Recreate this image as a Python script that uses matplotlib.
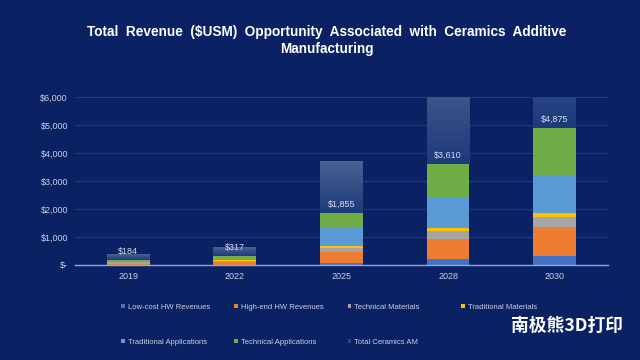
import matplotlib
matplotlib.use("Agg")
import matplotlib.pyplot as plt
import numpy as np
from matplotlib.patches import Patch
from matplotlib.colors import LinearSegmentedColormap

# === data ===
years = ["2019", "2022", "2025", "2028", "2030"]
low_cost_hw = [10, 10, 60, 200, 320]
high_end_hw = [15, 90, 420, 730, 1020]
tech_materials = [70, 40, 110, 280, 380]
trad_materials = [10, 25, 90, 120, 140]
trad_apps = [50, 50, 655, 1050, 1310]
tech_apps = [29, 102, 520, 1230, 1705]
total_am = [184, 317, 1855, 3610, 4875]

series = [
    ("Low-cost HW Revenues", low_cost_hw, "#4472C4"),
    ("High-end HW Revenues", high_end_hw, "#ED7D31"),
    ("Technical Materials", tech_materials, "#A5A5A5"),
    ("Traditional Materials", trad_materials, "#FFC000"),
    ("Traditional Applications", trad_apps, "#5B9BD5"),
    ("Technical Applications", tech_apps, "#70AD47"),
]
total_label = "Total Ceramics AM"
total_color = "#2c4784"

bg = "#0a2263"
tick_color = "#c8d0e4"
ymax = 6000

plt.rcParams["font.family"] = ["Liberation Sans", "DejaVu Sans"]

fig = plt.figure(figsize=(6.4, 3.6), dpi=100, facecolor=bg)
ax = fig.add_axes([0.117, 0.264, 0.833, 0.467], facecolor=bg)

x = np.arange(len(years))
width = 0.4
bottom = np.zeros(len(years))
for label, vals, color in series:
    ax.bar(x, vals, width, bottom=bottom, color=color, linewidth=0, zorder=2)
    bottom += np.array(vals)

# total stacked on top, with a vertical gradient (cut at the axis top)
tot_bars = ax.bar(x, total_am, width, bottom=bottom, color=total_color, linewidth=0, zorder=2)
cmap = LinearSegmentedColormap.from_list("tot", ["#1d3a7c", "#4a6192"])
for b in tot_bars:
    x0, y0, h = b.get_x(), b.get_y(), b.get_height()
    y1 = min(y0 + h, ymax)
    grad = np.linspace(0, (y1 - y0) / h, 100).reshape(-1, 1)
    ax.imshow(grad, extent=[x0, x0 + b.get_width(), y0, y1], origin="lower",
              aspect="auto", cmap=cmap, vmin=0, vmax=1, zorder=2.5)

for xi, base, val in zip(x, bottom, total_am):
    ax.annotate(f"${val:,}", (xi, base), xytext=(0, 3), textcoords="offset points",
                ha="center", va="bottom", fontsize=6.5, color="#d8deea", zorder=4)

ax.set_xlim(-0.5, len(years) - 0.5)
ax.set_ylim(0, ymax)
ax.set_yticks(np.arange(0, ymax + 1, 1000))
ax.set_yticklabels(["$-" if v == 0 else f"${v:,}" for v in range(0, ymax + 1, 1000)])
ax.set_xticks(x)
ax.set_xticklabels(years)
ax.tick_params(axis="both", length=0, colors=tick_color, labelsize=6.5, pad=5)
ax.grid(axis="y", color="#1f3a7a", linewidth=0.8, zorder=0)
ax.set_axisbelow(True)
for s in ["top", "right", "left"]:
    ax.spines[s].set_visible(False)
ax.spines["bottom"].set_color("#8fa6d4")
ax.spines["bottom"].set_linewidth(1)

fig.text(0.511, 0.887,
         "Total  Revenue  ($USM)  Opportunity  Associated  with  Ceramics  Additive\nManufacturing",
         ha="center", va="center", fontsize=9.8, fontweight="bold", color="white", linespacing=1.3)

# legend: 4 columns, 2 rows, equal pitch
entries = [(lab, col) for lab, _, col in series] + [(total_label, total_color)]
for i, (lab, col) in enumerate(entries):
    r, c = divmod(i, 4)
    fig.legend(handles=[Patch(facecolor=col, edgecolor="none", label=lab)],
               loc="center left", bbox_to_anchor=(0.189 + c * 0.177, 0.147 - r * 0.097),
               frameon=False, fontsize=5.5, labelcolor=tick_color,
               handlelength=0.5, handleheight=0.5, handletextpad=0.4, borderpad=0, borderaxespad=0)

fig.text(0.886, 0.094, "南极熊3D打印", fontsize=12.8, fontweight="bold", color="white",
         ha="center", va="center", family=["Noto Sans CJK SC", "DejaVu Sans"])

fig.savefig("out.png", dpi=100, facecolor=bg)
